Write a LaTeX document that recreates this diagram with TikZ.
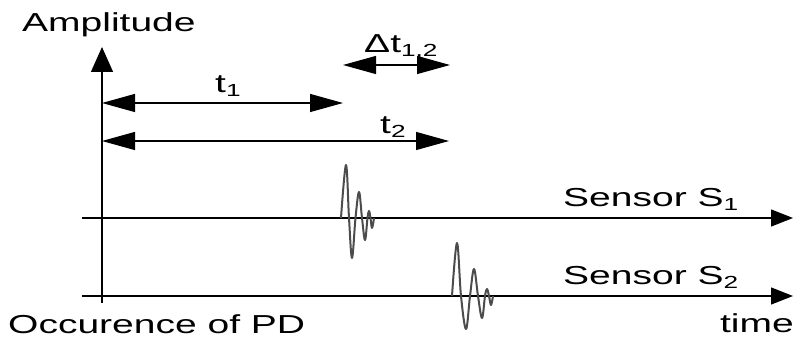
\documentclass[tikz,border=0pt]{standalone}
\usepackage{fontspec}
\setmainfont{Liberation Sans}[FakeStretch=1.5]
\usepackage{tikz}
\usetikzlibrary{arrows.meta,positioning}
\tikzset{
  axis/.style={line width=1.3pt, -{Triangle[length=22pt,width=17pt]}},
  yax/.style={line width=1.3pt, -{Triangle[length=25pt,width=22pt]}},
  span/.style={line width=1.2pt, {Triangle[length=33pt,width=18pt]}-{Triangle[length=33pt,width=18pt]}},
  wave/.style={line width=2pt, black!70, line join=round},
  lbl/.style={anchor=base west, inner sep=0pt, font=\fontsize{26}{29}\selectfont}
}
\newcommand{\lowsub}[1]{\raisebox{-4pt}{\fontsize{17.5}{19}\selectfont #1}}

\begin{document}
\begin{tikzpicture}[x=1pt, y=-1pt]
\useasboundingbox (0,0) rectangle (795,344);
\coordinate (org) at (102,303); \coordinate (ytop) at (102,47);
\coordinate (s1a) at (82,218); \coordinate (s1b) at (793,218);
\coordinate (s2a) at (82,296); \coordinate (s2b) at (793,296);
\coordinate (t1a) at (102,103); \coordinate (t1b) at (343,103);
\coordinate (t2a) at (102,141); \coordinate (t2b) at (449,141);
\coordinate (dta) at (343,65);  \coordinate (dtb) at (450,65);
\draw[yax] (org) -- (ytop);
\draw[axis] (s1a) -- (s1b); \draw[axis] (s2a) -- (s2b);
\draw[span] (t1a) -- (t1b); \draw[span] (t2a) -- (t2b); \draw[span] (dta) -- (dtb);
% pulses seen by the two sensors
\draw[wave] plot[smooth, tension=0.6] coordinates {(341,218) (346,165) (349,218) (352,258) (355.5,218) (359,192) (362,218) (365,240) (367.5,218) (369,211) (370.5,218) (372,228) (374,218)};
\draw[wave] plot[smooth, tension=0.6] coordinates {(452,296) (457,243) (461,296) (466,329) (470,296) (474,269) (478,296) (482,318) (485,296) (487,289) (489,296) (491,305) (493,296)};
\node[lbl] (amp) at (22,32) {Amplitude};
\node[lbl] (lt1) at (215,93) {t\lowsub{1}};
\node[lbl] (lt2) at (380,134) {t\lowsub{2}};
\node[lbl] (ldt) at (364,53) {Δt\lowsub{1,2}};
\node[lbl] (sen1) at (563,207) {Sensor S\lowsub{1}};
\node[lbl] (sen2) at (563,285) {Sensor S\lowsub{2}};
\node[lbl] (pd) at (8,334) {Occurence of PD};
\node[lbl, anchor=base east] (time) at (794,333) {time};
\end{tikzpicture}
\end{document}
